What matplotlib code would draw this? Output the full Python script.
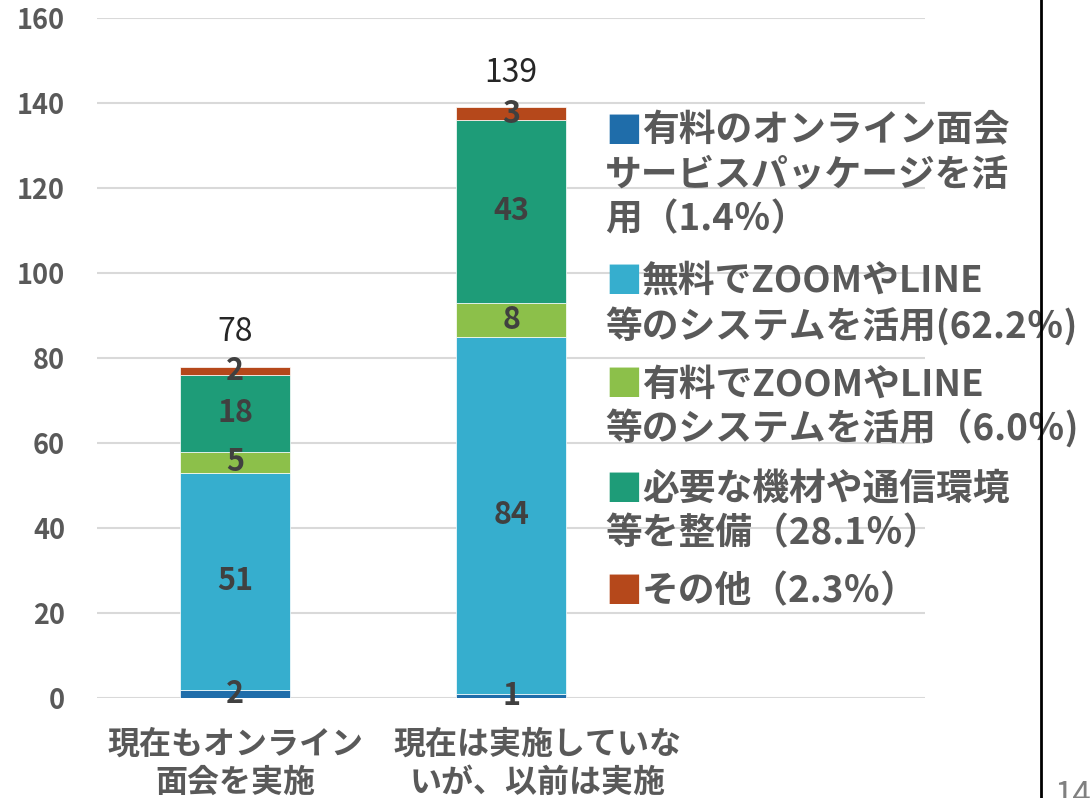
import matplotlib
matplotlib.use('Agg')
import matplotlib.pyplot as plt
from matplotlib.lines import Line2D
from matplotlib.transforms import ScaledTranslation

plt.rcParams['font.family'] = ['Noto Sans CJK JP', 'DejaVu Sans']

# Data
categories = ['現在もオンライン\n面会を実施', '現在は実施していな\nいが、以前は実施', '']
series_names = [
    ['有料のオンライン面会', 'サービスパッケージを活', '用（1.4％）'],
    ['無料でZOOMやLINE', '等のシステムを活用(62.2％)'],
    ['有料でZOOMやLINE', '等のシステムを活用（6.0％)'],
    ['必要な機材や通信環境', '等を整備（28.1％）'],
    ['その他（2.3％）'],
]
paid_package = [2, 1]
free_zoom = [51, 84]
paid_zoom = [5, 8]
equipment = [18, 43]
other = [2, 3]
series_values = [paid_package, free_zoom, paid_zoom, equipment, other]
colors = ['#1F6DAA', '#36AECE', '#8CC04A', '#1E9C78', '#B5481B']
y_ticks = [0, 20, 40, 60, 80, 100, 120, 140, 160]

fig = plt.figure(figsize=(10.9, 7.98), dpi=100)
ax = fig.add_axes([0.089, 0.1253, 0.760, 0.8521])

x = list(range(len(paid_package)))
bottoms = [0] * len(x)
for vals, col in zip(series_values, colors):
    bars = ax.bar(x, vals, width=0.4, bottom=bottoms, color=col,
                  edgecolor='white', linewidth=0.5, zorder=3)
    ax.bar_label(bars, labels=[str(v) for v in vals], label_type='center',
                 fontsize=22, fontweight='bold', color='#404040', zorder=5)
    bottoms = [b + v for b, v in zip(bottoms, vals)]

# totals above the bars
for xi, tot in zip(x, bottoms):
    ax.annotate(str(tot), (xi, tot), xytext=(0, 25), textcoords='offset points',
                ha='center', va='center', fontsize=23, color='#262626')

ax.set_xlim(-0.5, 2.5)
ax.set_ylim(0, 160)
ax.set_yticks(y_ticks)
ax.set_xticks([0, 1, 2])
ax.set_xticklabels(categories, fontsize=23, fontweight='bold', color='#595959',
                   linespacing=1.25)
ax.tick_params(axis='x', length=0, pad=22)
ax.tick_params(axis='y', length=0, pad=23, labelsize=19.5, labelcolor='#595959')
for lbl in ax.get_yticklabels():
    lbl.set_fontweight('bold')
# second category label sits a bit to the right in the original
lbl2 = ax.get_xticklabels()[1]
lbl2.set_transform(lbl2.get_transform() + ScaledTranslation(0.26, 0, fig.dpi_scale_trans))

ax.grid(axis='y', color='#D9D9D9', linewidth=1.5, zorder=0)
for s in ax.spines.values():
    s.set_visible(False)

# legend drawn as text, like the original (square on first line, wrapped text)
fs = 26.5
em = fs * 100 / 72
first_line_y = [131, 282, 385, 489, 592]
pitch = 44.5
x0 = 605
for lines, col, y0 in zip(series_names, colors, first_line_y):
    fig.text(x0 / 1090, 1 - (y0 + 1) / 798, '■', ha='left', va='center',
             fontsize=fs, fontweight='bold', color=col)
    for i, line in enumerate(lines):
        xs = x0 + em if i == 0 else x0
        fig.text(xs / 1090, 1 - (y0 + i * pitch) / 798, line, ha='left', va='center',
                 fontsize=fs, fontweight='bold', color='#595959')

# page border and page number
fig.add_artist(Line2D([1041 / 1090, 1041 / 1090], [0, 1], color='black', linewidth=2,
                      transform=fig.transFigure, zorder=10))
fig.text(1054 / 1090, 1 - 779 / 798, '14', ha='left', va='top', fontsize=24, color='#808080')

fig.savefig('out.png', dpi=100)
